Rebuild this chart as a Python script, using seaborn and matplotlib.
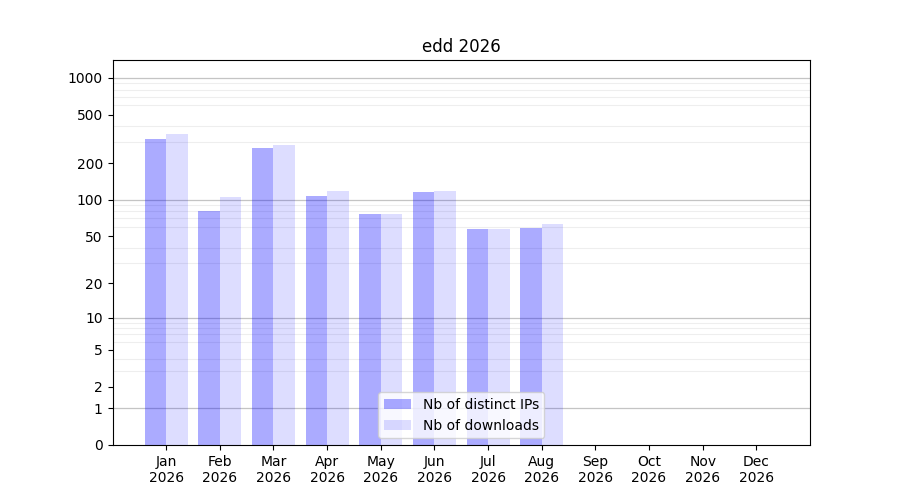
import numpy as np
import pandas as pd
import seaborn as sns
import matplotlib.pyplot as plt
from matplotlib.ticker import FixedLocator, NullFormatter

MONTHS = ["Jan", "Feb", "Mar", "Apr", "May", "Jun",
          "Jul", "Aug", "Sep", "Oct", "Nov", "Dec"]
YEAR = "2026"
SERIES = ["Nb of distinct IPs", "Nb of downloads"]

# valeurs (jan -> aug)
distinct_ips = [318, 81, 268, 108, 76, 115, 57, 58]
downloads = [345, 105, 280, 118, 76, 119, 57, 63]

Y_TICKS = [0, 1, 2, 5, 10, 20, 50, 100, 200, 500, 1000]
DECADES = [1, 10, 100, 1000]


def fwd(y):
    return np.log10(1 + np.maximum(y, 0))


def inv(y):
    return 10 ** y - 1


def build_frame() -> pd.DataFrame:
    n = len(distinct_ips)
    df = pd.DataFrame({
        "month": MONTHS[:n] * 2,
        "serie": [SERIES[0]] * n + [SERIES[1]] * n,
        "count": distinct_ips + downloads,
    })
    return df


def plot(df: pd.DataFrame):
    fig, ax = plt.subplots(figsize=(9, 5), dpi=100)

    sns.barplot(data=df, x="month", y="count", hue="serie", order=MONTHS,
                hue_order=SERIES, palette=["blue", "blue"], saturation=1,
                width=0.8, linewidth=0, errorbar=None, ax=ax, legend=False)

    for container, alpha in zip(ax.containers, [0.33, 0.133]):
        for bar in container:
            bar.set_alpha(alpha)

    ax.set_yscale("function", functions=(fwd, inv))
    ax.set_ylim(0, 1400)
    ax.set_xlim(-1, 12)

    ax.yaxis.set_major_locator(FixedLocator(Y_TICKS))
    ax.set_yticklabels([str(t) for t in Y_TICKS])
    minors = [m * d for d in [1, 10, 100] for m in range(2, 10)]
    ax.yaxis.set_minor_locator(FixedLocator(minors))
    ax.yaxis.set_minor_formatter(NullFormatter())
    ax.tick_params(axis="y", which="minor", length=0)
    ax.grid(which="minor", axis="y", color="#eeeeee", linewidth=0.8)
    for d in DECADES:
        ax.axhline(d, color="#c4c4c4", linewidth=0.9, zorder=0.5)
    ax.set_axisbelow(True)

    ax.set_xticks(range(len(MONTHS)))
    ax.set_xticklabels([f"{m}\n{YEAR}" for m in MONTHS])
    ax.set_xlabel("")
    ax.set_ylabel("")
    ax.set_title(f"edd {YEAR}")

    ax.legend(ax.containers, SERIES, loc="lower center")

    plt.savefig("out.png")
    plt.close()


if __name__ == "__main__":
    df = build_frame()
    plot(df)
